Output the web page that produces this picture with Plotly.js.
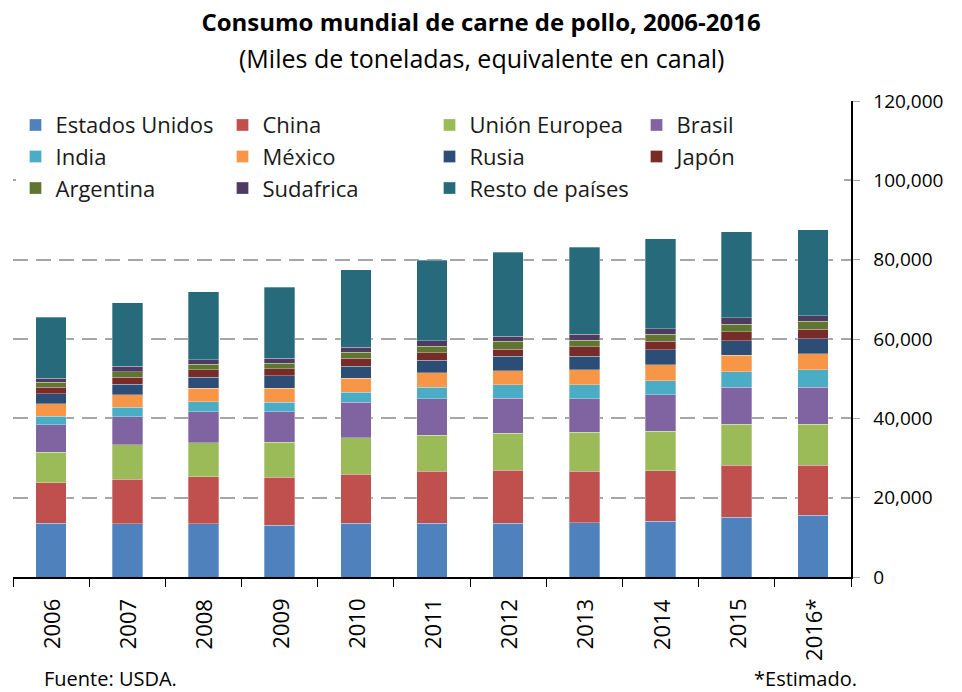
<!DOCTYPE html>
<html>
<head>
<meta charset="utf-8">
<script src="https://cdn.plot.ly/plotly-3.0.1.min.js"></script>
<style>html,body{margin:0;padding:0;background:#fff;}#chart{width:962px;height:692px;}</style>
</head>
<body>
<div id="chart"></div>
<script>
const years = ["2006","2007","2008","2009","2010","2011","2012","2013","2014","2015","2016*"];
const seriesNames = ["Estados Unidos","China","Unión Europea","Brasil","India","México","Rusia","Japón","Argentina","Sudafrica","Resto de países"];
const estadosUnidos = [13600,13400,13400,13000,13500,13500,13500,13700,14000,15100,15600];
const china         = [10200,11300,11900,12200,12400,13100,13400,13000,12800,13100,12600];
const unionEuropea  = [7700,8600,8600,8800,9200,9100,9300,9800,10000,10300,10300];
const brasil        = [6900,7100,7700,7600,9000,9300,8900,8500,9200,9400,9400];
const india         = [2100,2400,2600,2500,2500,2900,3400,3500,3500,3900,4300];
const mexico        = [3200,3100,3400,3500,3500,3600,3500,3800,4000,4100,4100];
const rusia         = [2500,2700,2800,3100,3000,3100,3600,3400,3800,3600,3800];
const japon         = [1700,1800,1900,1800,2000,1900,1800,2300,2100,2300,2300];
const argentina     = [1200,1400,1300,1400,1500,1700,2000,1700,1800,1900,2100];
const sudafrica     = [1000,1300,1200,1200,1300,1400,1300,1500,1400,1600,1400];
const restoPaises   = [15400,16100,17100,17900,19500,20300,21200,21900,22700,21800,21700];
const seriesValues = [estadosUnidos,china,unionEuropea,brasil,india,mexico,rusia,japon,argentina,sudafrica,restoPaises];
const colors = ["#4F81BD","#C0504D","#9BBB59","#8064A2","#4BACC6","#F79646","#2C4D75","#772C2A","#5F7530","#4D3B62","#276A7C"];

const FONT = "Open Sans, Liberation Sans, sans-serif";
const traces = seriesNames.map((n,i)=>({
  type:"bar", name:n, x:years, y:seriesValues[i],
  marker:{color:colors[i], line:{color:"rgba(255,255,255,0.5)", width:0.6}},
  hoverinfo:"name+y"
}));

// category labels (placed by category index on the x axis), rotated and top-aligned under the axis
const yearLabels = years.map((yr, i) => ({
  text:yr, xref:"x", x:i, yref:"paper", y:0, yshift:-20, xanchor:"center", yanchor:"top",
  textangle:-90, showarrow:false, font:{size:22, color:"#000"}
}));

const layout = {
  width:962, height:692,
  margin:{l:13, r:111, t:101, b:115},
  paper_bgcolor:"#fff", plot_bgcolor:"#fff",
  barmode:"stack", bargap:0.6,
  font:{family:FONT, size:19, color:"#1a1a1a"},
  title:{text:"<b>Consumo mundial de carne de pollo, 2006-2016</b>", x:0.5, xanchor:"center", y:0.968, yanchor:"middle", yref:"container",
         font:{family:FONT, size:24, color:"#000"}},
  xaxis:{type:"category", categoryarray:years, range:[-0.5, years.length-0.5], showticklabels:false, showgrid:false, showline:true, linecolor:"#000", linewidth:1.5,
         ticks:"outside", ticklen:8, tickcolor:"#000", tickson:"boundaries"},
  yaxis:{side:"right", range:[0,120000], dtick:20000, tickformat:",d", showline:true, linecolor:"#000", linewidth:1.5,
         ticks:"outside", ticklen:7, tickcolor:"#a6a6a6", showgrid:true, gridcolor:"#a6a6a6", gridwidth:2, griddash:"15px,8px",
         zeroline:false, tickfont:{size:19, color:"#000"}, ticklabelstandoff:10},
  legend:{orientation:"h", x:0.003, xanchor:"left", y:0.9935, yanchor:"top", entrywidth:162, entrywidthmode:"pixels",
          bgcolor:"#fff", font:{size:22, color:"#1a1a1a"}, traceorder:"normal"},
  annotations:[
    {text:"(Miles de toneladas, equivalente en canal)", xref:"paper", yref:"paper", x:0.5585, y:1, yshift:43, xanchor:"center", yanchor:"middle", showarrow:false, font:{size:25, color:"#000"}},
    {text:"Fuente: USDA.", xref:"paper", yref:"paper", x:0, xshift:29, y:0, yshift:-101, xanchor:"left", yanchor:"middle", showarrow:false, font:{size:20, color:"#000"}},
    {text:"*Estimado.", xref:"paper", yref:"paper", x:1, xshift:8, y:0, yshift:-101, xanchor:"right", yanchor:"middle", showarrow:false, font:{size:20, color:"#000"}}
  ].concat(yearLabels)
};
Plotly.newPlot("chart", traces, layout, {displayModeBar:false, staticPlot:true});
</script>
</body>
</html>
